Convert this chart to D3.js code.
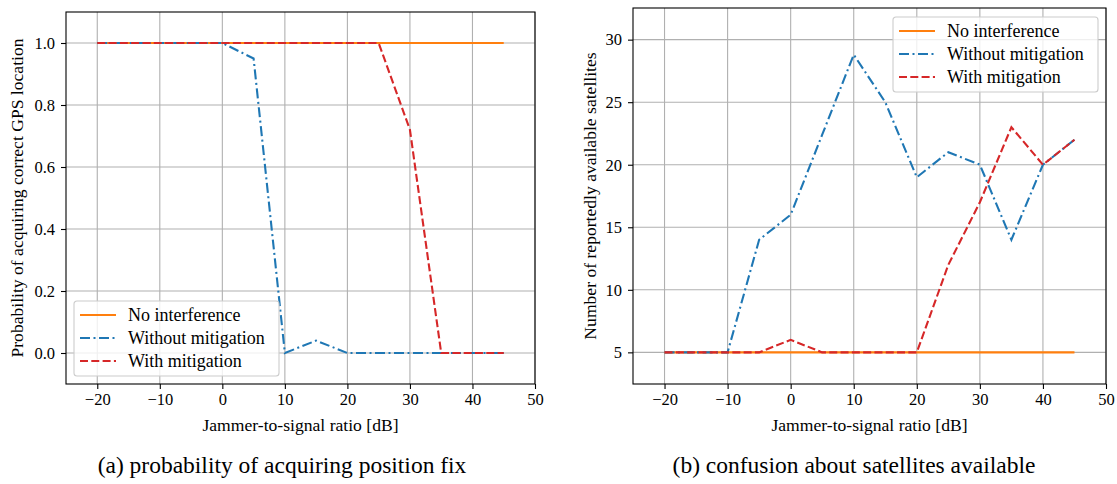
<!DOCTYPE html>
<html>
<head>
<meta charset="utf-8">
<script src="https://cdn.jsdelivr.net/npm/d3@7"></script>
<style>
  body { margin: 0; background: #fff; }
  svg text { font-family: "Liberation Serif", "DejaVu Serif", serif; fill: #000; }
</style>
</head>
<body>
<svg width="1117" height="484"></svg>
<script>
var jsr = [-20, -15, -10, -5, 0, 5, 10, 15, 20, 25, 30, 35, 40, 45];
var seriesNames = ["No interference", "Without mitigation", "With mitigation"];

// (a) probability of a correct fix
var probNone = [1, 1, 1, 1, 1, 1, 1, 1, 1, 1, 1, 1, 1, 1];
var probWithout = [1, 1, 1, 1, 1, 0.95, 0, 0.04, 0, 0, 0, 0, 0, 0];
var probWith = [1, 1, 1, 1, 1, 1, 1, 1, 1, 1, 0.72, 0, 0, 0];

// (b) number of satellites reported
var satNone = [5, 5, 5, 5, 5, 5, 5, 5, 5, 5, 5, 5, 5, 5];
var satWithout = [5, 5, 5, 14, 16, 22.4, 28.8, 25, 19, 21, 20, 14, 20, 22];
var satWith = [5, 5, 5, 5, 6, 5, 5, 5, 5, 12, 17, 23, 20, 22];

var xTicks = [-20, -10, 0, 10, 20, 30, 40, 50];
var probTicks = [0, 0.2, 0.4, 0.6, 0.8, 1.0];
var satTicks = [5, 10, 15, 20, 25, 30];

var colors = ["#ff7f0e", "#1f77b4", "#d62728"];
var dashes = [null, "10,3.5,2,3.5", "8,3.3"];

var svg = d3.select("svg");

function drawPanel(p) {
    var x = d3.scaleLinear().domain([-25, 50]).range([p.left, p.right]);
    var y = d3.scaleLinear().domain(p.ydomain).range([p.bottom, p.top]);
    var g = svg.append("g");

    // grid
    g.append("g").selectAll("line").data(xTicks).enter().append("line")
        .attr("x1", function(d) { return x(d); }).attr("x2", function(d) { return x(d); })
        .attr("y1", p.top).attr("y2", p.bottom)
        .attr("stroke", "#b0b0b0").attr("stroke-width", 1.1);
    g.append("g").selectAll("line").data(p.yticks).enter().append("line")
        .attr("y1", function(d) { return y(d); }).attr("y2", function(d) { return y(d); })
        .attr("x1", p.left).attr("x2", p.right)
        .attr("stroke", "#b0b0b0").attr("stroke-width", 1.1);

    var line = d3.line()
        .x(function(d) { return x(d[0]); })
        .y(function(d) { return y(d[1]); });

    p.series.forEach(function(vals, i) {
        g.append("path")
            .datum(jsr.map(function(v, j) { return [v, vals[j]]; }))
            .attr("fill", "none")
            .attr("stroke", colors[i])
            .attr("stroke-width", 2.1)
            .attr("stroke-dasharray", dashes[i])
            .attr("d", line);
    });

    // axes
    var xAxis = d3.axisBottom(x).tickValues(xTicks).tickSize(5).tickPadding(4)
        .tickFormat(function(d) { return d < 0 ? "\u2212" + Math.abs(d) : d; });
    var yAxis = d3.axisLeft(y).tickValues(p.yticks).tickSize(5).tickPadding(6)
        .tickFormat(p.yformat);
    var gx = g.append("g").attr("transform", "translate(0," + p.bottom + ")").call(xAxis);
    var gy = g.append("g").attr("transform", "translate(" + p.left + ",0)").call(yAxis);
    [gx, gy].forEach(function(a) {
        a.select(".domain").remove();
        a.selectAll("line").attr("stroke", "#000").attr("stroke-width", 1.1);
        a.selectAll("text").attr("font-size", 16.5);
    });

    g.append("rect")
        .attr("x", p.left).attr("y", p.top)
        .attr("width", p.right - p.left).attr("height", p.bottom - p.top)
        .attr("fill", "none").attr("stroke", "#000").attr("stroke-width", 1.1);

    // labels
    g.append("text")
        .attr("x", (p.left + p.right) / 2).attr("y", 431)
        .attr("text-anchor", "middle").attr("font-size", 17.6)
        .text("Jammer-to-signal ratio [dB]");
    g.append("text")
        .attr("transform", "translate(" + p.ylabelX + "," + ((p.top + p.bottom) / 2) + ") rotate(-90)")
        .attr("text-anchor", "middle").attr("dy", "0.35em").attr("font-size", 17.6)
        .text(p.ylabel);
    g.append("text")
        .attr("x", p.captionX).attr("y", 473)
        .attr("text-anchor", "middle").attr("font-size", 23.5)
        .text(p.caption);

    // legend
    var lg = g.append("g").attr("transform", "translate(" + p.legend[0] + "," + p.legend[1] + ")");
    lg.append("rect")
        .attr("width", 205).attr("height", 75).attr("rx", 3)
        .attr("fill", "#fff").attr("fill-opacity", 0.8)
        .attr("stroke", "#cccccc").attr("stroke-width", 1.1);
    seriesNames.forEach(function(name, i) {
        var yy = 14 + i * 23;
        lg.append("line")
            .attr("x1", 6).attr("x2", 42).attr("y1", yy).attr("y2", yy)
            .attr("stroke", colors[i]).attr("stroke-width", 2.1)
            .attr("stroke-dasharray", dashes[i]);
        lg.append("text")
            .attr("x", 54).attr("y", yy).attr("dy", "0.35em")
            .attr("font-size", 18).text(name);
    });
}

drawPanel({
    left: 66, right: 535, top: 12, bottom: 384,
    ydomain: [-0.1, 1.1], yticks: probTicks,
    yformat: d3.format(".1f"),
    series: [probNone, probWithout, probWith],
    ylabel: "Probability of acquiring correct GPS location",
    ylabelX: 17,
    caption: "(a) probability of acquiring position fix",
    captionX: 282,
    legend: [74, 301]
});

drawPanel({
    left: 633, right: 1106, top: 8, bottom: 384,
    ydomain: [2.47, 32.53], yticks: satTicks,
    yformat: d3.format("d"),
    series: [satNone, satWithout, satWith],
    ylabel: "Number of reportedly available satellites",
    ylabelX: 590,
    caption: "(b) confusion about satellites available",
    captionX: 854,
    legend: [893, 17]
});
</script>
</body>
</html>
